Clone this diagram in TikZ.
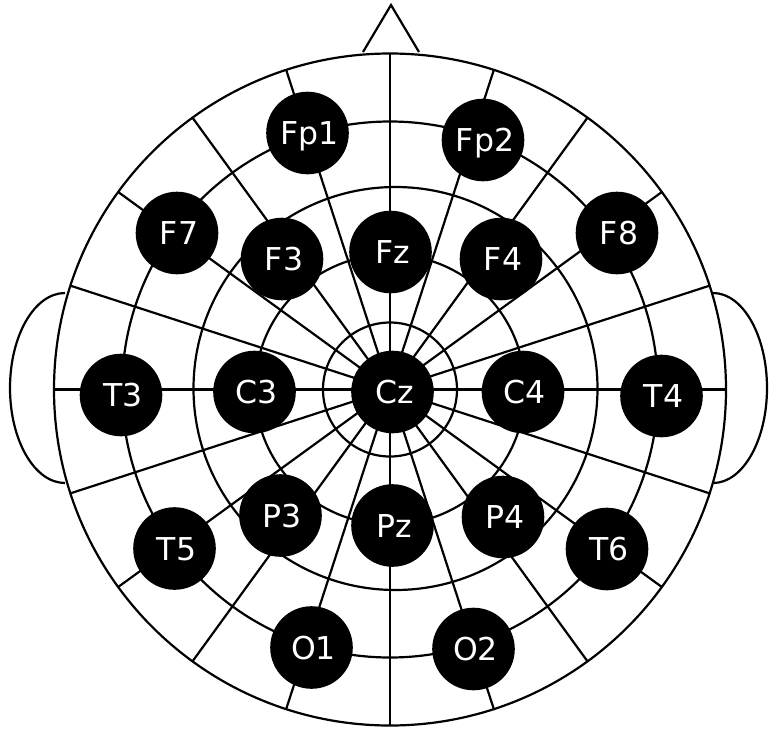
\documentclass[tikz,border=0pt]{standalone}
\usepackage{fontspec}
\setmainfont{DejaVu Sans}
\begin{document}
\begin{tikzpicture}[x=1pt,y=-1pt,
  outline/.style={draw=black,line width=2.2pt},
  electrode/.style={circle,fill=black,draw=none,minimum size=82.6pt,inner sep=0pt,
    text=white,font=\fontsize{31.5}{31.5}\selectfont,text height=23pt,text depth=0pt}]
\useasboundingbox (0,0) rectangle (769,729);
\coordinate (c) at (390,389.5);
\coordinate (c2) at (395.5,388.5);
% concentric rings
\foreach \r in {67,135,268,336} \draw[outline] (c) circle[radius=\r pt];
\draw[outline] (c2) ellipse[x radius=202pt,y radius=201.5pt];
% radial spokes every 18 degrees
\foreach \a in {0,18,...,342} \draw[outline] (c) -- ++(\a:336pt);
% nose
\coordinate (noseL) at (363,52);
\coordinate (noseT) at (391,5);
\coordinate (noseR) at (419,52);
\draw[outline] (noseL) -- (noseT) -- (noseR);
% ears
\coordinate (earLt) at (65,293); \coordinate (earLm) at (10,388); \coordinate (earLb) at (65,483);
\coordinate (earRt) at (713,293); \coordinate (earRm) at (767,388); \coordinate (earRb) at (713,483);
\draw[outline] (earLt) .. controls (34.6,293) and (10,335.5) .. (earLm) .. controls (10,440.5) and (34.6,483) .. (earLb);
\draw[outline] (earRt) .. controls (742.8,293) and (767,335.5) .. (earRm) .. controls (767,440.5) and (742.8,483) .. (earRb);
% electrodes
\newcommand\elab[1]{\kern4pt#1}
\node[electrode] (Fp1) at (307.5,133) {\elab{Fp1}};
\node[electrode] (Fp2) at (483,140) {\elab{Fp2}};
\node[electrode] (F7) at (177,233) {\elab{F7}};
\node[electrode] (F3) at (282,259) {\elab{F3}};
\node[electrode] (Fz) at (390.5,252) {\elab{Fz}};
\node[electrode] (F4) at (501,259) {\elab{F4}};
\node[electrode] (F8) at (617,233) {\elab{F8}};
\node[electrode] (T3) at (121,395) {\elab{T3}};
\node[electrode] (C3) at (254.5,392) {\elab{C3}};
\node[electrode] (Cz) at (392.5,392) {\elab{Cz}};
\node[electrode] (C4) at (523,392) {\elab{C4}};
\node[electrode] (T4) at (661.5,396) {\elab{T4}};
\node[electrode] (T5) at (174.5,548.5) {\elab{T5}};
\node[electrode] (P3) at (280.5,515.5) {\elab{P3}};
\node[electrode] (Pz) at (392.5,525.5) {\elab{Pz}};
\node[electrode] (P4) at (503,517) {\elab{P4}};
\node[electrode] (T6) at (607,549) {\elab{T6}};
\node[electrode] (O1) at (311.5,647.5) {\elab{O1}};
\node[electrode] (O2) at (473.5,649) {\elab{O2}};
\end{tikzpicture}
\end{document}
